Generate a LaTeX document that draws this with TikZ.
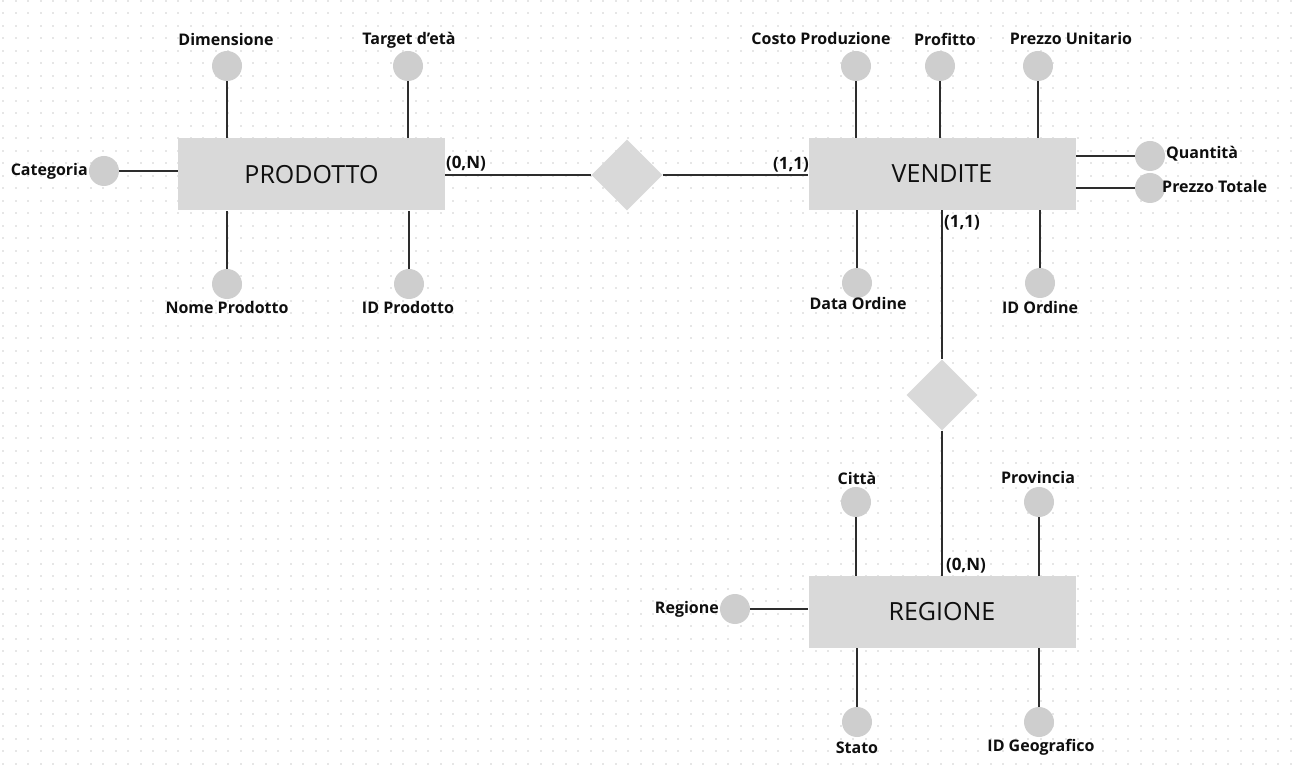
\documentclass[tikz,border=0pt]{standalone}
\usepackage{fontspec}
\setmainfont{Open Sans}
\usetikzlibrary{shapes.geometric}
\definecolor{entfill}{RGB}{217,217,217}
\definecolor{attrfill}{RGB}{206,206,206}
\definecolor{linecol}{RGB}{45,45,45}
\definecolor{dotcol}{RGB}{230,230,230}
\definecolor{txt}{RGB}{15,15,15}
\begin{document}
\begin{tikzpicture}[x=1pt,y=-1pt,
  ent/.style={fill=entfill, draw=none, minimum width=267pt, minimum height=72pt, inner sep=0pt, text=txt, font=\fontsize{25}{29}\selectfont},
  attr/.style={circle, fill=attrfill, draw=none, minimum size=30pt, inner sep=0pt},
  lab/.style={font=\bfseries\fontsize{16}{19}\selectfont, inner sep=0pt, text=txt},
  card/.style={font=\bfseries\fontsize{17}{20}\selectfont, inner sep=0pt, text=txt},
  rel/.style={diamond, fill=entfill, draw=none, minimum width=71pt, minimum height=71pt, inner sep=0pt},
  conn/.style={draw=linecol, line width=1.8pt}]
\useasboundingbox (0,0) rectangle (1294,775);
\fill[white] (0,0) rectangle (1294,775);
% dotted grid
\foreach \i in {0,...,103}{
  \foreach \j in {0,...,61}{
    \fill[dotcol] ({\i*12.5+2},{\j*12.5}) rectangle ++(2,2);
  }
}
% entities
\node[ent] (prod) at (311.5,174.5) {PRODOTTO};
\node[ent] (vend) at (942,174) {VENDITE};
\node[ent] (reg) at (942,612) {REGIONE};
% relationships
\node[rel] (r1) at (627,175) {};
\node[rel] (r2) at (942,395) {};
% PRODOTTO attributes
\node[attr] (dim) at (227,66) {};
\node[attr] (tar) at (408,66) {};
\node[attr] (cat) at (104,171) {};
\node[attr] (nome) at (227,284) {};
\node[attr] (idp) at (409,284) {};
\node[lab] (ldim) at (226,40) {Dimensione};
\node[lab] (ltar) at (409,40) {Target d’età};
\node[lab, anchor=east] (lcat) at (88,171) {Categoria};
\node[lab] (lnome) at (227,308) {Nome Prodotto};
\node[lab] (lidp) at (408,308) {ID Prodotto};
% VENDITE attributes
\node[attr] (costo) at (856,66) {};
\node[attr] (prof) at (940,66) {};
\node[attr] (pu) at (1038,66) {};
\node[attr] (qta) at (1150,156) {};
\node[attr] (pt) at (1150,188) {};
\node[attr] (data) at (857,283) {};
\node[attr] (ido) at (1040,283) {};
\node[lab] (lcosto) at (821,39) {Costo Produzione};
\node[lab] (lprof) at (945,39) {Profitto};
\node[lab] (lpu) at (1071,39) {Prezzo Unitario};
\node[lab, anchor=west] (lqta) at (1166,154) {Quantità};
\node[lab, anchor=west] (lpt) at (1162,187) {Prezzo Totale};
\node[lab] (ldata) at (858,304) {Data Ordine};
\node[lab] (lido) at (1040,308) {ID Ordine};
% REGIONE attributes
\node[attr] (citta) at (856,502) {};
\node[attr] (prov) at (1039,502) {};
\node[attr] (regat) at (735,609) {};
\node[attr] (stato) at (857,722) {};
\node[attr] (idg) at (1039,722) {};
\node[lab] (lcitta) at (857,478) {Città};
\node[lab] (lprov) at (1038,478) {Provincia};
\node[lab, anchor=east] (lregat) at (719,609) {Regione};
\node[lab] (lstato) at (857,748) {Stato};
\node[lab] (lidg) at (1041,747) {ID Geografico};
% connectors: attributes
\draw[conn] (dim) -- (dim |- prod.north);
\draw[conn] (tar) -- (tar |- prod.north);
\draw[conn] (cat) -- (cat -| prod.west);
\draw[conn] (nome) -- (nome |- prod.south);
\draw[conn] (idp) -- (idp |- prod.south);
\draw[conn] (costo) -- (costo |- vend.north);
\draw[conn] (prof) -- (prof |- vend.north);
\draw[conn] (pu) -- (pu |- vend.north);
\draw[conn] (qta) -- (qta -| vend.east);
\draw[conn] (pt) -- (pt -| vend.east);
\draw[conn] (data) -- (data |- vend.south);
\draw[conn] (ido) -- (ido |- vend.south);
\draw[conn] (citta) -- (citta |- reg.north);
\draw[conn] (prov) -- (prov |- reg.north);
\draw[conn] (regat) -- (regat -| reg.west);
\draw[conn] (stato) -- (stato |- reg.south);
\draw[conn] (idg) -- (idg |- reg.south);
% connectors: relationships
\draw[conn] (prod.east |- r1) -- (r1.west);
\draw[conn] (r1.east) -- (r1.east -| vend.west);
\draw[conn] (vend.south) -- (r2.north);
\draw[conn] (r2.south) -- (reg.north);
% cardinalities
\node[card] (c1) at (466,164) {(0,N)};
\node[card] (c2) at (791,165) {(1,1)};
\node[card] (c3) at (962,223) {(1,1)};
\node[card] (c4) at (966,566) {(0,N)};
\end{tikzpicture}
\end{document}
